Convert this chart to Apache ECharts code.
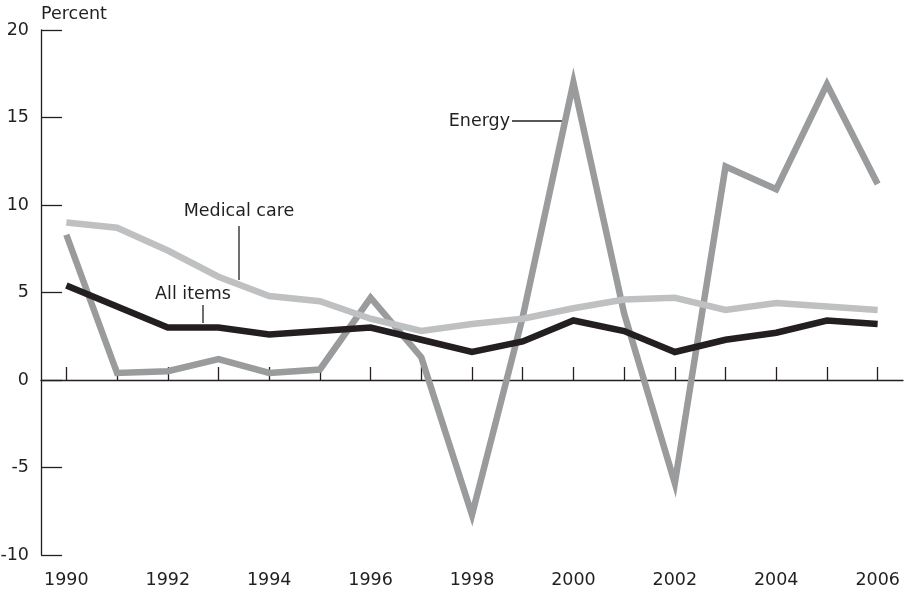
<!DOCTYPE html>
<html><head><meta charset="utf-8">
<script src="https://cdn.jsdelivr.net/npm/echarts@6/dist/echarts.min.js"></script>
<style>html,body{margin:0;padding:0;background:#fff}#c{width:911px;height:592px}</style>
</head><body><div id="c"></div>
<script>
const years = ['1990','1991','1992','1993','1994','1995','1996','1997','1998','1999','2000','2001','2002','2003','2004','2005','2006'];
const yearLabels = ['1990','','1992','','1994','','1996','','1998','','2000','','2002','','2004','','2006'];
const energy = [8.3,0.4,0.5,1.2,0.4,0.6,4.7,1.3,-7.7,3.6,17.0,3.8,-5.9,12.2,10.9,16.9,11.2];
const medicalCare = [9.0,8.7,7.4,5.9,4.8,4.5,3.5,2.8,3.2,3.5,4.1,4.6,4.7,4.0,4.4,4.2,4.0];
const allItems = [5.4,4.2,3.0,3.0,2.6,2.8,3.0,2.3,1.6,2.2,3.4,2.8,1.6,2.3,2.7,3.4,3.2];
const yTicks = [-10,-5,0,5,10,15,20];

const FONT = '"DejaVu Sans", sans-serif';
const INK = '#231f20';
const chart = echarts.init(document.getElementById('c'));
const lineCommon = {type:'line', symbol:'none', smooth:false, xAxisIndex:0, animation:false};
chart.setOption({
  animation:false,
  grid:{left:41, right:8, top:30, bottom:37, containLabel:false, outerBoundsMode:'none'},
  xAxis:[
    {type:'category', data:years, boundaryGap:true,
     axisLine:{onZero:true, lineStyle:{color:INK, width:1.3}},
     axisTick:{show:true, inside:true, length:13, alignWithLabel:true, lineStyle:{color:INK, width:1.3}},
     axisLabel:{show:false}, splitLine:{show:false}},
    {type:'category', data:yearLabels, boundaryGap:true, position:'bottom',
     axisLine:{show:false, onZero:false}, axisTick:{show:false},
     axisLabel:{show:true, interval:0, margin:16, fontFamily:FONT, fontSize:17.5, color:INK}}
  ],
  yAxis:{type:'value', min:-10, max:20, interval:5,
    axisLine:{show:true, lineStyle:{color:INK, width:1.3}},
    axisTick:{show:true, inside:true, length:21, lineStyle:{color:INK, width:1.3}},
    axisLabel:{margin:12, fontFamily:FONT, fontSize:17.5, color:INK},
    splitLine:{show:false}},
  series:[
    Object.assign({name:'Energy', data:energy, z:2, lineStyle:{color:'#9a9b9d', width:6.5, join:'miter', miterLimit:10}}, lineCommon),
    Object.assign({name:'Medical care', data:medicalCare, z:3, lineStyle:{color:'#bfc0c2', width:6.5, join:'miter', miterLimit:10}}, lineCommon),
    Object.assign({name:'All items', data:allItems, z:4, lineStyle:{color:INK, width:6.5, join:'miter', miterLimit:10}}, lineCommon)
  ],
  graphic:[
    {type:'text', left:41, top:5, style:{text:'Percent', font:'17.5px '+FONT, fill:INK}},
    {type:'text', style:{text:'Energy', x:510, y:121, align:'right', verticalAlign:'middle', font:'17.5px '+FONT, fill:INK}},
    {type:'line', shape:{x1:512, y1:121, x2:562, y2:121}, style:{stroke:INK, lineWidth:1.3}},
    {type:'text', style:{text:'Medical care', x:239, y:211, align:'center', verticalAlign:'middle', font:'17.5px '+FONT, fill:INK}},
    {type:'line', shape:{x1:239, y1:226, x2:239, y2:280}, style:{stroke:INK, lineWidth:1.3}},
    {type:'text', style:{text:'All items', x:193, y:294, align:'center', verticalAlign:'middle', font:'17.5px '+FONT, fill:INK}},
    {type:'line', shape:{x1:203, y1:305, x2:203, y2:323}, style:{stroke:INK, lineWidth:1.3}}
  ]
});
</script></body></html>
